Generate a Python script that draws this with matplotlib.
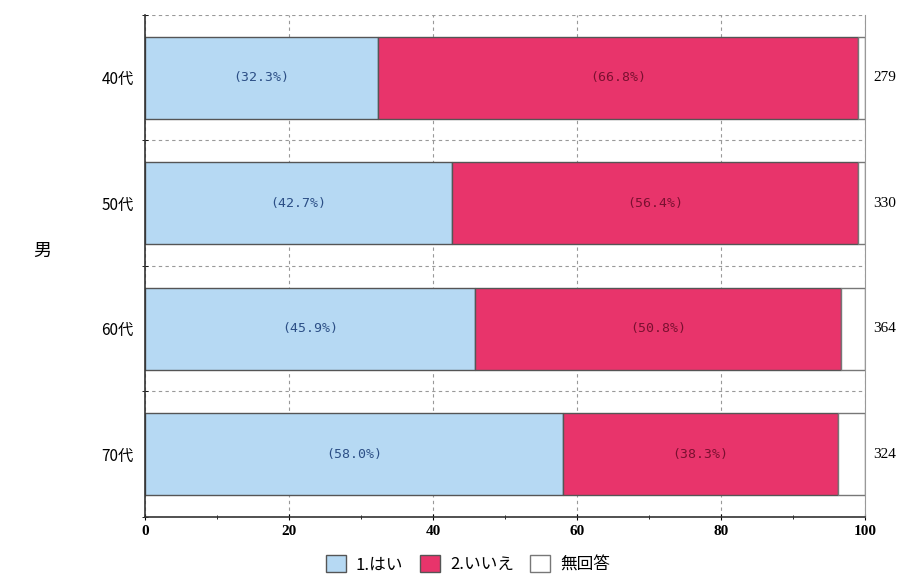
import matplotlib
matplotlib.use("Agg")
import matplotlib.pyplot as plt
import matplotlib.transforms as mtransforms
from matplotlib.ticker import MultipleLocator
import numpy as np

plt.rcParams['font.family'] = ['Noto Sans CJK JP', 'DejaVu Sans']

ages = ["40代", "50代", "60代", "70代"]
yes_pct = [32.3, 42.7, 45.9, 58.0]
no_pct = [66.8, 56.4, 50.8, 38.3]
na_pct = [0.9, 0.9, 3.3, 3.7]
counts = [279, 330, 364, 324]
legend_labels = ["1.はい", "2.いいえ", "無回答"]

blue = "#b6d9f3"
pink = "#e8346b"

fig = plt.figure(figsize=(9.09, 5.77), dpi=100)
ax = fig.add_axes([0.1595, 0.104, 0.792, 0.870])

y = np.arange(len(ages))
h = 0.65
b1 = ax.barh(y, yes_pct, height=h, color=blue, edgecolor="#555555", linewidth=1.0)
b2 = ax.barh(y, no_pct, height=h, left=yes_pct, color=pink, edgecolor="#555555", linewidth=1.0)
left3 = np.array(yes_pct) + np.array(no_pct)
b3 = ax.barh(y, na_pct, height=h, left=left3, color="white", edgecolor="#777777", linewidth=1.0)

# labels inside the segments
for i in range(len(ages)):
    ax.text(yes_pct[i] / 2, y[i], f"({yes_pct[i]:.1f}%)", ha="center", va="center",
            fontsize=9.5, color="#2c4f86", family="DejaVu Sans Mono")
    ax.text(yes_pct[i] + no_pct[i] / 2, y[i], f"({no_pct[i]:.1f}%)", ha="center", va="center",
            fontsize=9.5, color="#7a1030", family="DejaVu Sans Mono")

# sample sizes to the right of the plot
trans = mtransforms.blended_transform_factory(ax.transAxes, ax.transData)
for i, n in enumerate(counts):
    ax.text(1.027, y[i], str(n), transform=trans, ha="center", va="center",
            fontsize=11, family="Liberation Serif", clip_on=False)

ax.set_xlim(0, 100)
ax.set_ylim(3.5, -0.5)
ax.set_yticks(y)
ax.set_yticklabels(ages, fontsize=11)
ax.tick_params(axis="y", length=0, pad=8)
ax.set_yticks(np.arange(-0.5, 4.0, 1.0), minor=True)
ax.tick_params(axis="y", which="minor", length=4, direction="inout")

ax.xaxis.set_major_locator(MultipleLocator(20))
ax.xaxis.set_minor_locator(MultipleLocator(10))
ax.tick_params(axis="x", which="major", length=5, direction="inout", labelsize=11)
ax.tick_params(axis="x", which="minor", length=3, direction="inout")
for lab in ax.get_xticklabels():
    lab.set_family("Liberation Serif")
    lab.set_fontweight("bold")

ax.set_axisbelow(True)
ax.grid(axis="x", which="major", linestyle=(0, (3, 3)), color="#999999", linewidth=0.8)
ax.grid(axis="y", which="minor", linestyle=(0, (3, 3)), color="#999999", linewidth=0.8)

ax.spines["top"].set_visible(False)
ax.spines["right"].set_color("#999999")
ax.spines["right"].set_linewidth(0.8)
ax.spines["left"].set_color("#333333")
ax.spines["bottom"].set_color("#333333")
ax.spines["left"].set_linewidth(1.2)
ax.spines["bottom"].set_linewidth(1.2)

fig.text(0.047, 0.565, "男", fontsize=13, ha="center", va="center")

fig.legend([b1, b2, b3], legend_labels, loc="center", bbox_to_anchor=(0.515, 0.022),
           ncol=3, frameon=False, fontsize=12, handlelength=1.2, handleheight=1.2,
           handletextpad=0.6, columnspacing=1.0)

fig.savefig("out.png", dpi=100)
